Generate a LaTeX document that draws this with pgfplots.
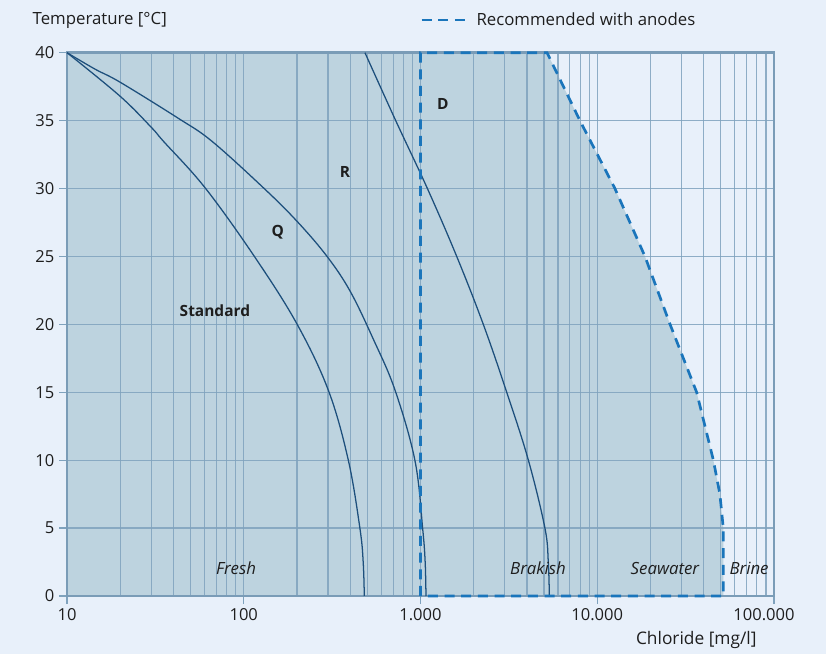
\documentclass[border=0pt]{standalone}
\usepackage{fontspec}
\setmainfont{Open Sans}
\usepackage{pgfplots}
\pgfplotsset{compat=1.18}
\definecolor{bg}{HTML}{E8F0FA}
\definecolor{darkfill}{HTML}{BDD3DF}
\definecolor{gridc}{HTML}{7FA2BD}
\definecolor{framec}{HTML}{7A9CB7}
\definecolor{curvec}{HTML}{1D4F7C}
\definecolor{dashc}{HTML}{1A75BB}
\definecolor{textc}{HTML}{1E1E1E}
\pagecolor{bg}
\begin{document}
\begin{tikzpicture}
\path (0,0) rectangle (619.5pt,490.5pt);
\begin{axis}[
  at={(50.25pt,43.5pt)}, anchor=south west,
  scale only axis, width=530.25pt, height=407.5pt,
  set layers, clip=false,
  xmode=log, log basis x=10,
  xmin=10, xmax=100000, ymin=0, ymax=40,
  xtick={10,100,1000,10000,100000},
  xticklabels={10,100,1.000,10.000,{\hspace*{-15pt}100.000}},
  minor xtick={20,30,40,50,60,70,80,90,200,300,400,500,600,700,800,900,2000,3000,4000,5000,6000,7000,8000,9000,20000,30000,40000,50000,60000,70000,80000,90000},
  ytick={0,5,10,15,20,25,30,35,40},
  yticklabels={0,5,10,15,20,25,30,35,40},
  minor y tick num=0,
  grid=both,
  major grid style={gridc, line width=0.9pt, opacity=0.85},
  minor grid style={gridc, line width=0.9pt, opacity=0.85},
  axis line style={framec, line width=1.8pt},
  tick align=outside, tick pos=left,
  major tick length=6pt, minor tick length=0pt,
  every tick/.style={gridc, line width=0.9pt},
  ticklabel style={font=\fontsize{12.4}{14}\selectfont, text=textc},
  axis background/.style={fill=bg},
  legend style={at={(axis description cs:0.4992,1.060)}, anchor=west, draw=none, fill=none,
    font=\fontsize{12.6}{15}\selectfont, text=textc, inner sep=0pt,
    nodes={inner sep=2pt}},
  legend image code/.code={\draw[#1] (0pt,0pt) -- (34.5pt,0pt); \path (38.25pt,0pt);},
  legend cell align=left,
]
% shaded region (recommended zone)
\addplot[fill=darkfill, draw=none, on layer=axis background, forget plot] coordinates {
 (10,0) (10,40) (5200,40) (7980,35) (12590,30) (18620,25) (25820,20) (36510,15) (45400,10) (49400,7.5) (51660,5) (51660,0)
} -- cycle;
% Standard / Q boundary
\addplot[curvec, line width=0.95pt, smooth, tension=0.6, forget plot] coordinates {
 (10,40) (19.95,36.80) (30.15,34.47) (35.06,33.49) (60.37,30.06) (114.3,25.04) (199.4,20.06) (300.8,15.16) (390.4,10.01) (454.7,4.94) (474.2,2.46) (480.9,0)
};
% Q / R boundary
\addplot[curvec, line width=0.95pt, smooth, tension=0.6, forget plot] coordinates {
 (10,40) (14.4,38.79) (19.95,37.83) (42.5,35.18) (65.9,33.49) (129,30.06) (199.4,27.61) (294.4,25.04) (399.1,22.46) (540.8,18.91) (717.5,15.16) (930.8,9.96) (1029,4.94) (1063,2.46) (1074,0)
};
% R / D boundary
\addplot[curvec, line width=0.95pt, smooth, tension=0.6, forget plot] coordinates {
 (485,40) (724,35) (1094,30) (1603,25) (2266,20) (3075,15) (4077,10) (5058,5) (5285,2.5) (5358,0)
};
% recommended with anodes
\addplot[dashc, line width=2pt, dash pattern=on 7.5pt off 5pt] coordinates {
 (1000,0) (1000,40) (5200,40) (7980,35) (12590,30) (18620,25) (25820,20) (36510,15) (45400,10) (49400,7.5) (51660,5) (51660,0) (1000,0)
};
\addlegendentry{Recommended with anodes}
% region labels
\begin{scope}[every node/.style={font=\fontsize{12.6}{15}\selectfont, text=textc}]
\node[font=\fontsize{12.6}{15}\selectfont\itshape] at (axis cs:90.4,2.06) {Fresh};
\node[font=\fontsize{12.6}{15}\selectfont\itshape] at (axis cs:4624,2.06) {Brakish};
\node[font=\fontsize{12.6}{15}\selectfont\itshape] at (axis cs:24150,2.06) {Seawater};
\node[font=\fontsize{12.6}{15}\selectfont\itshape] at (axis cs:72300,2.06) {Brine};
\node[font=\fontsize{11.6}{14}\selectfont\bfseries] at (axis cs:68.7,21) {Standard};
\node[font=\fontsize{11.6}{14}\selectfont\bfseries] at (axis cs:156,26.8) {Q};
\node[font=\fontsize{11.6}{14}\selectfont\bfseries] at (axis cs:374,31.2) {R};
\node[font=\fontsize{11.6}{14}\selectfont\bfseries] at (axis cs:1340,36.2) {D};
\node[anchor=west] at (axis description cs:-0.0552,1.060) {Temperature [°C]};
\node[anchor=east, font=\fontsize{13}{15}\selectfont] at (axis description cs:0.982,-0.081) {Chloride [mg/l]};
\end{scope}
\end{axis}
\end{tikzpicture}
\end{document}
